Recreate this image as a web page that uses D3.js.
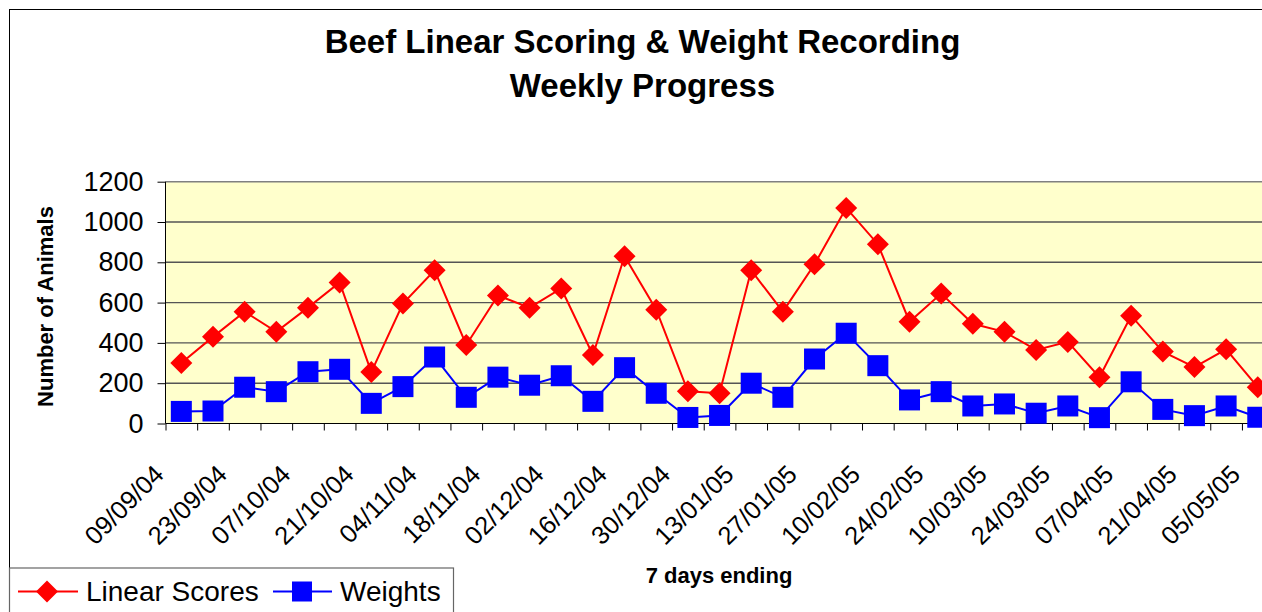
<!DOCTYPE html>
<html>
<head>
<meta charset="utf-8">
<script src="https://cdn.jsdelivr.net/npm/d3@7"></script>
<style>
  body { margin: 0; background: #fff; }
  svg { display: block; font-family: "Liberation Sans", Arial, sans-serif; }
</style>
</head>
<body>
<div class="chart"></div>
<script>
// weekly categories (7 days ending)
const weeks = [
  "09/09/04", "16/09/04", "23/09/04", "30/09/04", "07/10/04", "14/10/04", "21/10/04",
  "28/10/04", "04/11/04", "11/11/04", "18/11/04", "25/11/04", "02/12/04", "09/12/04",
  "16/12/04", "23/12/04", "30/12/04", "06/01/05", "13/01/05", "20/01/05", "27/01/05",
  "03/02/05", "10/02/05", "17/02/05", "24/02/05", "03/03/05", "10/03/05", "17/03/05",
  "24/03/05", "31/03/05", "07/04/05", "14/04/05", "21/04/05", "28/04/05", "05/05/05"
];
const linearScores = [
  300, 430, 555, 455, 575, 700, 255, 595, 760, 390, 635, 575, 670, 340,
  830, 565, 160, 150, 760, 555, 790, 1070, 890, 505, 645, 495, 455, 365,
  405, 230, 535, 357, 280, 368, 180
];
const weights = [
  60, 62, 180, 158, 257, 269, 100, 183, 330, 130, 230, 190, 237, 110,
  277, 150, 30, 40, 200, 130, 320, 448, 287, 117, 158, 87, 97, 51,
  87, 29, 207, 70, 39, 87, 31
];
const yTicks = [0, 200, 400, 600, 800, 1000, 1200];
const labelWeeks = weeks.filter((d, i) => i % 2 === 0);

const W = 1262, H = 612;
const plotLeft = 165.5, plotTop = 181.7, plotBottom = 423.5;
const step = 31.66;
const plotRight = plotLeft + weeks.length * step;

const svg = d3.select("div.chart").append("svg")
  .attr("width", W)
  .attr("height", H);

// chart border
svg.append("rect")
  .attr("x", 9.5).attr("y", 9.5)
  .attr("width", W + 20).attr("height", H + 20)
  .style("fill", "none").style("stroke", "#000").style("stroke-width", 1);

const x = d3.scaleBand().domain(weeks).range([plotLeft, plotRight]);
const xi = d3.scaleLinear().domain([0, weeks.length]).range([plotLeft, plotRight]);
const y = d3.scaleLinear().domain([0, 1200]).range([plotBottom, plotTop]);
const cx = d => x(d) + x.bandwidth() / 2;

// plot background
svg.append("rect")
  .attr("x", plotLeft).attr("y", plotTop)
  .attr("width", plotRight - plotLeft).attr("height", plotBottom - plotTop)
  .style("fill", "#FFFFCC");

// gridlines
svg.selectAll("line.grid")
  .data(yTicks.filter(v => v > 0 && v < 1200))
  .enter().append("line")
  .attr("class", "grid")
  .attr("x1", plotLeft).attr("x2", plotRight)
  .attr("y1", d => y(d)).attr("y2", d => y(d))
  .style("stroke", "#555").style("stroke-width", 1.4);

svg.append("line")
  .attr("x1", plotLeft).attr("x2", plotRight)
  .attr("y1", y(1200)).attr("y2", y(1200))
  .style("stroke", "#808080").style("stroke-width", 1.5);

// y axis
const yAxis = svg.append("g")
  .attr("transform", `translate(${plotLeft},0)`)
  .call(d3.axisLeft(y).tickValues(yTicks).tickSize(8).tickPadding(14).tickFormat(d3.format("d")));
yAxis.selectAll("text").style("font-size", "27px").style("fill", "#000")
  .style("font-family", "'Liberation Sans', Arial, sans-serif");
yAxis.selectAll("line, path").style("stroke", "#000");
yAxis.select("path").attr("d", `M0,${plotBottom}V${plotTop}`);

// x axis ticks between categories
const xTickAxis = svg.append("g")
  .attr("transform", `translate(0,${plotBottom})`)
  .call(d3.axisBottom(xi).tickValues(d3.range(weeks.length + 1)).tickSize(7).tickFormat(""));
xTickAxis.selectAll("line, path").style("stroke", "#000");
xTickAxis.select("path").attr("d", `M${plotLeft},0H${plotRight}`);

// x labels, ending at the tick left of each category
const xLabels = svg.append("g")
  .attr("transform", `translate(0,${plotBottom})`)
  .call(d3.axisBottom(x).tickValues(labelWeeks).tickSize(0));
xLabels.select("path").remove();
xLabels.selectAll("text")
  .attr("x", 0).attr("y", 0).attr("dy", 0)
  .attr("transform", "translate(-16,52.5) rotate(-45)")
  .style("text-anchor", "end")
  .style("font-size", "25.5px")
  .style("fill", "#000")
  .style("font-family", "'Liberation Sans', Arial, sans-serif");

// lines
const line = d3.line().x((d, i) => cx(weeks[i])).y(d => y(d));

svg.append("path")
  .datum(linearScores)
  .attr("d", line)
  .style("fill", "none").style("stroke", "#FF0000").style("stroke-width", 2);

svg.selectAll("path.diamond")
  .data(linearScores)
  .enter().append("path")
  .attr("class", "diamond")
  .attr("d", (d, i) => {
    let px = cx(weeks[i]), py = y(d), r = 11;
    return `M${px},${py - r}L${px + r},${py}L${px},${py + r}L${px - r},${py}Z`;
  })
  .style("fill", "#FF0000");

svg.append("path")
  .datum(weights)
  .attr("d", line)
  .style("fill", "none").style("stroke", "#0000FF").style("stroke-width", 2);

svg.selectAll("rect.square")
  .data(weights)
  .enter().append("rect")
  .attr("class", "square")
  .attr("x", (d, i) => cx(weeks[i]) - 10.5)
  .attr("y", d => y(d) - 10.5)
  .attr("width", 21).attr("height", 21)
  .style("fill", "#0000FF");

// titles
const title = svg.append("text")
  .attr("text-anchor", "middle")
  .style("font-size", "33px").style("font-weight", "bold");
title.append("tspan").attr("x", 642.5).attr("y", 53).text("Beef Linear Scoring & Weight Recording");
title.append("tspan").attr("x", 642.5).attr("y", 96.5).text("Weekly Progress");

svg.append("text")
  .attr("transform", "translate(53,306.5) rotate(-90)")
  .attr("text-anchor", "middle")
  .style("font-size", "22px").style("font-weight", "bold")
  .text("Number of Animals");

svg.append("text")
  .attr("x", 719).attr("y", 583)
  .attr("text-anchor", "middle")
  .style("font-size", "22px").style("font-weight", "bold")
  .text("7 days ending");

// legend
const legend = svg.append("g");
legend.append("rect")
  .attr("x", 9.5).attr("y", 568)
  .attr("width", 444).attr("height", 80)
  .style("fill", "#fff").style("stroke", "#666").style("stroke-width", 1.2);

const ly = 591.5;
legend.append("line")
  .attr("x1", 18).attr("x2", 78).attr("y1", ly).attr("y2", ly)
  .style("stroke", "#FF0000").style("stroke-width", 2);
legend.append("path")
  .attr("d", `M47,${ly - 11}L58,${ly}L47,${ly + 11}L36,${ly}Z`)
  .style("fill", "#FF0000");
legend.append("text")
  .attr("x", 86).attr("y", 601)
  .style("font-size", "28px")
  .text("Linear Scores");

legend.append("line")
  .attr("x1", 273).attr("x2", 332).attr("y1", ly).attr("y2", ly)
  .style("stroke", "#0000FF").style("stroke-width", 2);
legend.append("rect")
  .attr("x", 292).attr("y", ly - 10)
  .attr("width", 20).attr("height", 20)
  .style("fill", "#0000FF");
legend.append("text")
  .attr("x", 340).attr("y", 601)
  .style("font-size", "28px")
  .text("Weights");
</script>
</body>
</html>
